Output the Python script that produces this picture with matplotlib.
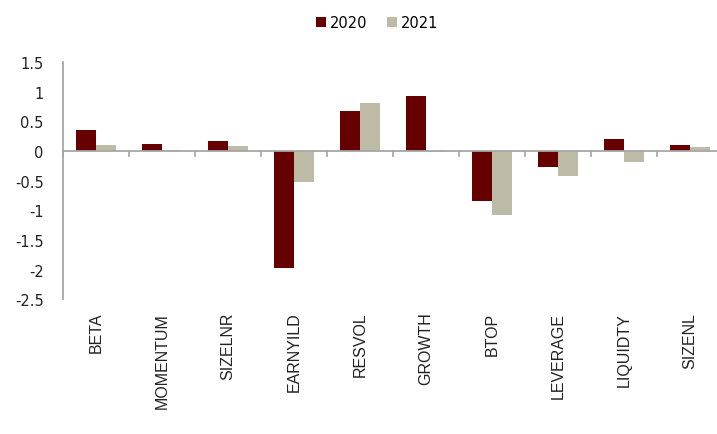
import matplotlib.pyplot as plt
import numpy as np

# Factor exposures
factors = ['BETA', 'MOMENTUM', 'SIZELNR', 'EARNYILD', 'RESVOL',
           'GROWTH', 'BTOP', 'LEVERAGE', 'LIQUIDTY', 'SIZENL']
vals_2020 = [0.35, 0.12, 0.17, -1.98, 0.67, 0.93, -0.84, -0.27, 0.20, 0.10]
vals_2021 = [0.10, 0.01, 0.08, -0.52, 0.81, -0.02, -1.08, -0.42, -0.19, 0.07]
years = ['2020', '2021']
colors = ['#660000', '#BDBBA6']

fig = plt.figure(figsize=(7.17, 4.35), dpi=100)
ax = fig.add_axes([0.088, 0.31, 0.912, 0.545])

x = np.arange(len(factors))
w = 0.3
ax.bar(x - w / 2, vals_2020, w, color=colors[0], label=years[0])
ax.bar(x + w / 2, vals_2021, w, color=colors[1], label=years[1])

ax.set_xlim(-0.5, 9.41)
ax.set_ylim(-2.5, 1.5)
ax.set_yticks(np.arange(-2.5, 1.51, 0.5))
ax.set_yticklabels(['-2.5', '-2', '-1.5', '-1', '-0.5', '0', '0.5', '1', '1.5'])
ax.tick_params(axis='y', length=0, pad=14, labelsize=10.5, labelcolor='#222222')

# zero line with small ticks between categories
ax.spines['bottom'].set_position(('data', 0))
ax.spines['bottom'].set_color('#A6A6A6')
ax.spines['bottom'].set_linewidth(1.3)
ax.spines['left'].set_color('#A6A6A6')
ax.spines['left'].set_linewidth(1.3)
ax.spines['top'].set_visible(False)
ax.spines['right'].set_visible(False)
ax.set_xticks(np.arange(-0.5, 9.0, 1.0))
ax.set_xticklabels([])
ax.tick_params(axis='x', direction='out', length=4, width=1.2, color='#A6A6A6')

# category labels below the plot area
sec = ax.secondary_xaxis('bottom')
sec.set_xticks(x)
sec.set_xticklabels(factors, rotation=90, fontsize=11.5, family='Liberation Sans', color='#222222')
sec.tick_params(length=0, pad=9)
sec.spines['bottom'].set_visible(False)

ax.legend(loc='center', bbox_to_anchor=(0.526, 0.945), bbox_transform=fig.transFigure,
          ncol=2, frameon=False, fontsize=10.5, handlelength=0.7, handleheight=0.7,
          handletextpad=0.3, columnspacing=1.3)

plt.savefig('out.png')
